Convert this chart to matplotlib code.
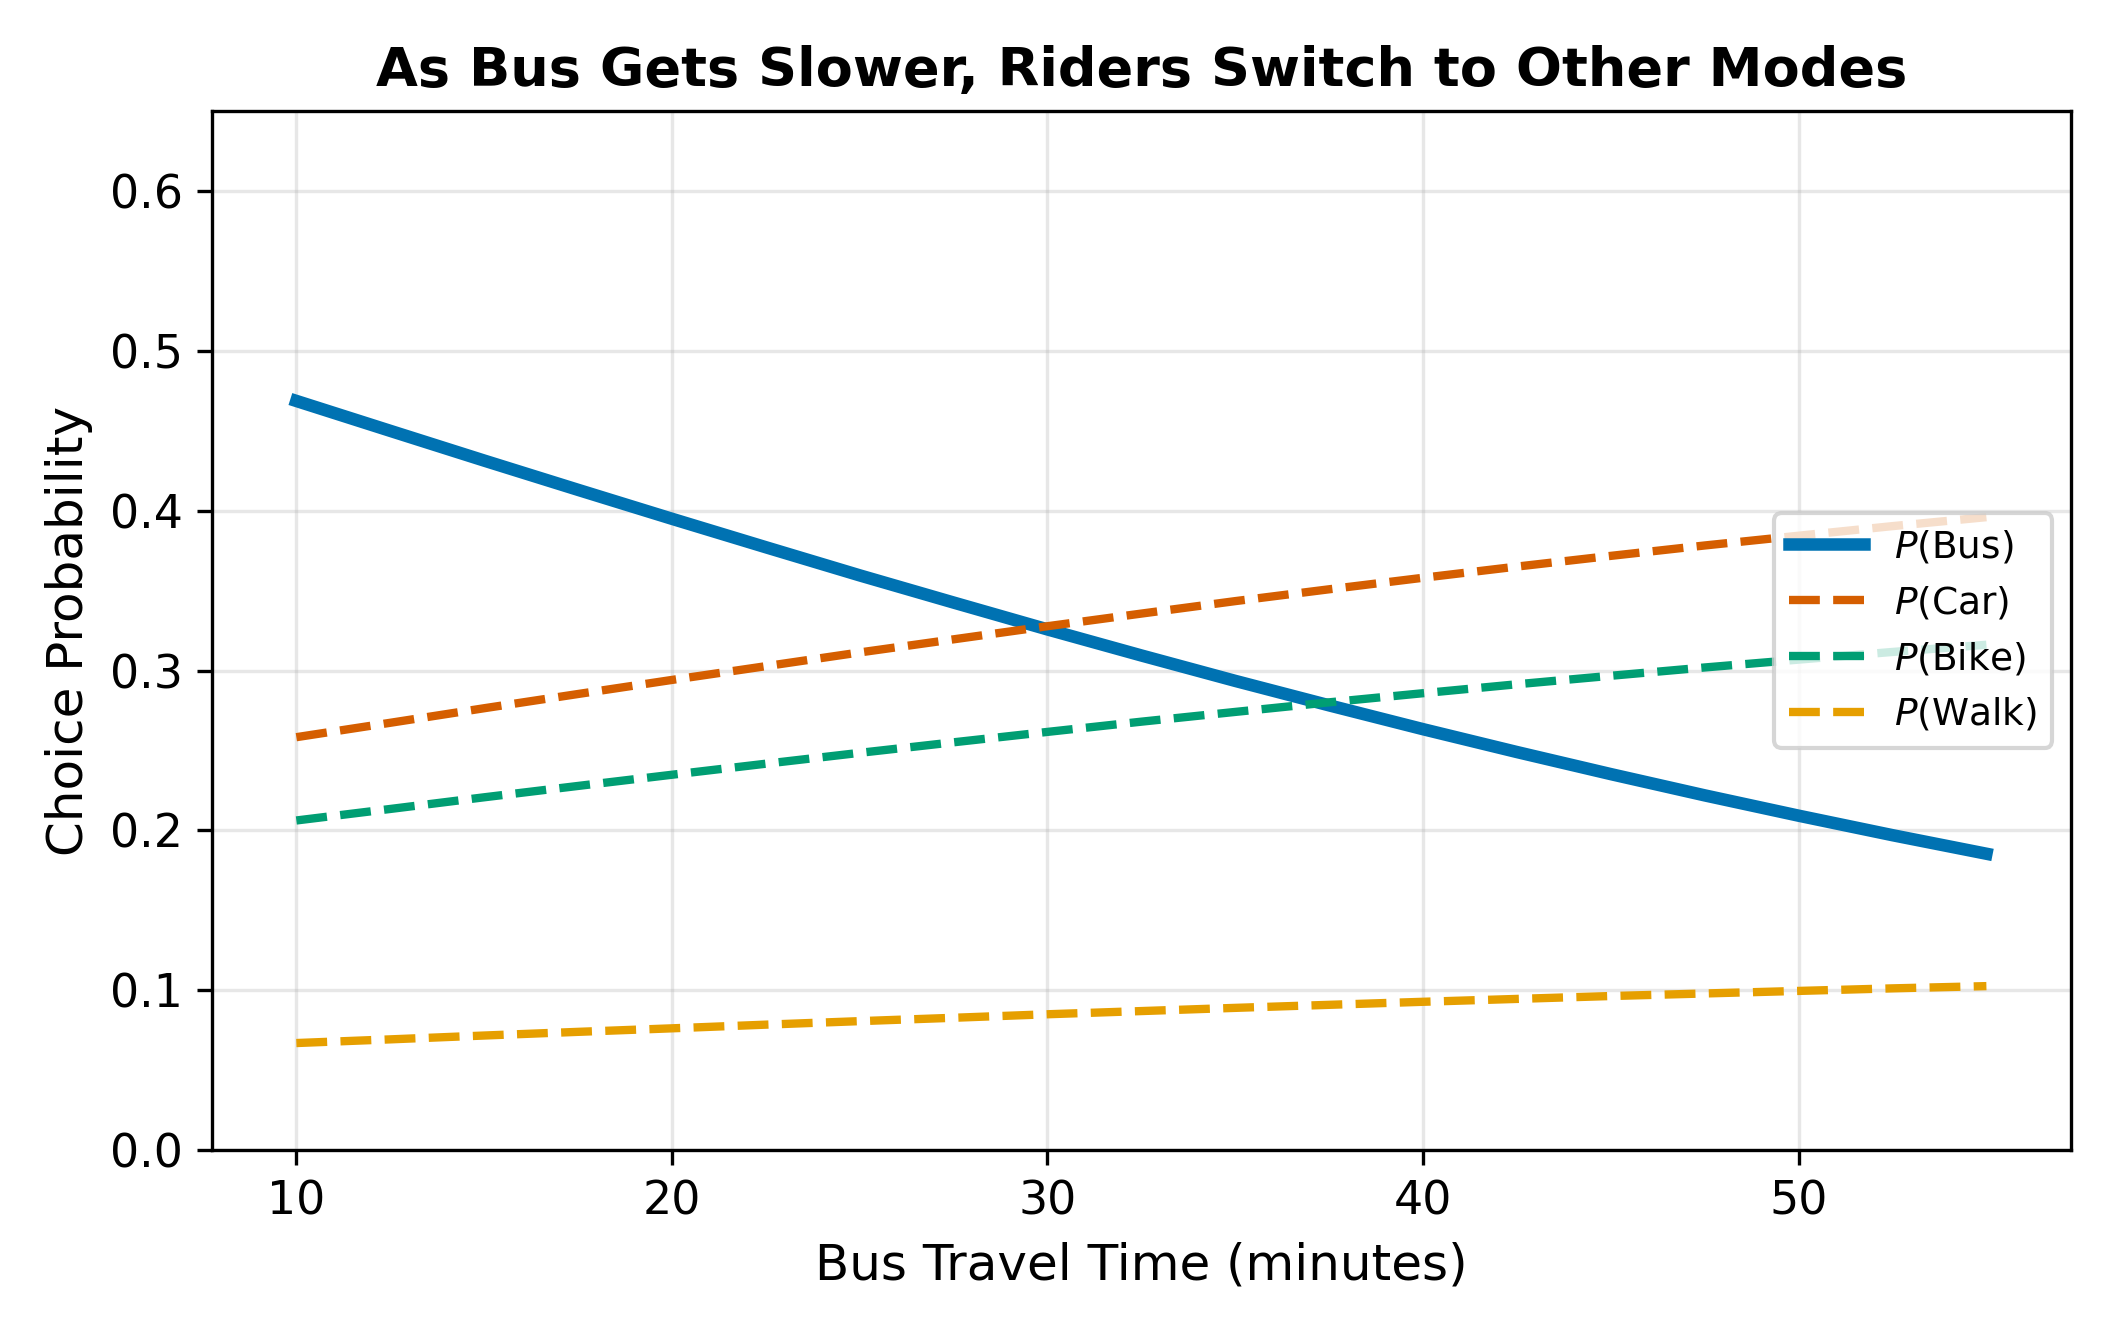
"""Mode choice probabilities vs bus travel time."""

import matplotlib.pyplot as plt

# bus travel time (minutes)
travel_time = [10, 12.5, 15, 17.5, 20, 22.5, 25, 27.5, 30, 32.5,
               35, 37.5, 40, 42.5, 45, 47.5, 50, 52.5, 55]

# choice probabilities
p_bus = [0.4686, 0.4499, 0.4313, 0.4130, 0.3949, 0.3771, 0.3595, 0.3425, 0.3257, 0.3094,
         0.2935, 0.2782, 0.2633, 0.2490, 0.2352, 0.2219, 0.2092, 0.1970, 0.1854]
p_car = [0.2583, 0.2673, 0.2764, 0.2853, 0.2941, 0.3027, 0.3113, 0.3195, 0.3277, 0.3356,
         0.3434, 0.3508, 0.3580, 0.3650, 0.3717, 0.3782, 0.3843, 0.3903, 0.3959]
p_bike = [0.2062, 0.2134, 0.2207, 0.2278, 0.2348, 0.2417, 0.2485, 0.2551, 0.2616, 0.2680,
          0.2741, 0.2801, 0.2858, 0.2914, 0.2967, 0.3019, 0.3068, 0.3116, 0.3161]
p_walk = [0.0670, 0.0693, 0.0717, 0.0740, 0.0762, 0.0785, 0.0807, 0.0828, 0.0850, 0.0870,
          0.0890, 0.0909, 0.0928, 0.0946, 0.0964, 0.0980, 0.0996, 0.1012, 0.1026]

labels = ["$P$(Bus)", "$P$(Car)", "$P$(Bike)", "$P$(Walk)"]
colors = ["#0072B2", "#D55E00", "#009E73", "#E69F00"]


def main() -> None:
    fig, ax = plt.subplots(figsize=(7.053, 4.447), dpi=300)

    ax.plot(travel_time, p_bus, color=colors[0], lw=3, label=labels[0])
    ax.plot(travel_time, p_car, color=colors[1], lw=2, ls="--", label=labels[1])
    ax.plot(travel_time, p_bike, color=colors[2], lw=2, ls="--", label=labels[2])
    ax.plot(travel_time, p_walk, color=colors[3], lw=2, ls="--", label=labels[3])

    ax.set_ylim(0, 0.65)
    ax.set_xlabel("Bus Travel Time (minutes)", fontsize=12)
    ax.set_ylabel("Choice Probability", fontsize=12)
    ax.set_title("As Bus Gets Slower, Riders Switch to Other Modes",
                 fontsize=13, fontweight="bold")
    ax.tick_params(labelsize=11)
    ax.grid(True, alpha=0.3)
    ax.legend(loc="center right", fontsize=9)

    plt.tight_layout()
    plt.savefig("out.png", dpi=300)


if __name__ == "__main__":
    main()
